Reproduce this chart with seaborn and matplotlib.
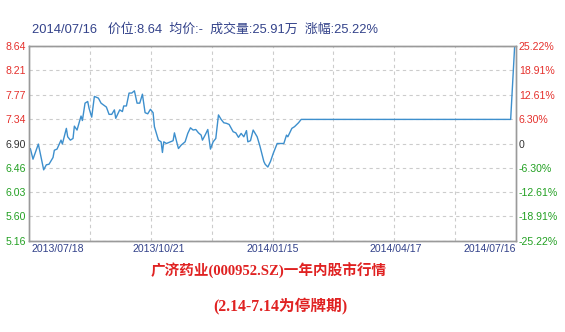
import matplotlib
matplotlib.use("Agg")
import matplotlib.pyplot as plt
import matplotlib.dates as mdates
from matplotlib.ticker import FixedLocator
import pandas as pd
import seaborn as sns

# ---------------- data ----------------
dates = [
    "2013-07-17", "2013-07-19", "2013-07-23", "2013-07-25", "2013-07-27", "2013-07-29",
    "2013-07-31", "2013-08-03", "2013-08-04", "2013-08-06", "2013-08-09", "2013-08-10",
    "2013-08-13", "2013-08-14", "2013-08-16", "2013-08-18", "2013-08-19", "2013-08-21",
    "2013-08-24", "2013-08-25", "2013-08-27", "2013-08-29", "2013-08-30", "2013-09-01",
    "2013-09-03", "2013-09-06", "2013-09-08", "2013-09-12", "2013-09-14", "2013-09-16",
    "2013-09-18", "2013-09-19", "2013-09-22", "2013-09-24", "2013-09-25", "2013-09-27",
    "2013-09-29", "2013-10-01", "2013-10-03", "2013-10-05", "2013-10-07", "2013-10-09",
    "2013-10-11", "2013-10-13", "2013-10-15", "2013-10-17", "2013-10-18", "2013-10-21",
    "2013-10-23", "2013-10-24", "2013-10-25", "2013-10-27", "2013-10-30", "2013-11-01",
    "2013-11-02", "2013-11-04", "2013-11-05", "2013-11-07", "2013-11-10", "2013-11-12",
    "2013-11-14", "2013-11-16", "2013-11-18", "2013-11-20", "2013-11-22", "2013-11-23",
    "2013-11-25", "2013-11-27", "2013-11-29", "2013-12-01", "2013-12-03", "2013-12-05",
    "2013-12-07", "2013-12-09", "2013-12-11", "2013-12-13", "2013-12-16", "2013-12-18",
    "2013-12-20", "2013-12-22", "2013-12-24", "2013-12-26", "2013-12-27", "2013-12-29",
    "2013-12-31", "2014-01-03", "2014-01-05", "2014-01-08", "2014-01-09", "2014-01-11",
    "2014-01-13", "2014-01-15", "2014-01-18", "2014-01-20", "2014-01-23", "2014-01-25",
    "2014-01-26", "2014-01-29", "2014-01-31", "2014-02-03", "2014-02-05", "2014-07-12",
    "2014-07-15", "2014-07-16",
]
prices = [
    6.81, 6.62, 6.89, 6.66, 6.43, 6.52,
    6.53, 6.65, 6.78, 6.80, 6.96, 6.89,
    7.17, 7.02, 6.96, 6.99, 7.21, 7.14,
    7.39, 7.31, 7.62, 7.65, 7.53, 7.37,
    7.74, 7.71, 7.62, 7.55, 7.42, 7.42,
    7.50, 7.35, 7.50, 7.47, 7.57, 7.57,
    7.80, 7.80, 7.84, 7.62, 7.62, 7.78,
    7.45, 7.43, 7.51, 7.45, 7.20, 6.96,
    6.93, 6.74, 6.93, 6.90, 6.93, 6.95,
    7.09, 6.90, 6.81, 6.87, 6.93, 7.08,
    7.18, 7.14, 7.15, 7.09, 7.05, 6.96,
    7.05, 7.15, 6.80, 6.93, 6.99, 7.41,
    7.33, 7.27, 7.26, 7.24, 7.11, 7.09,
    7.01, 7.08, 7.02, 7.13, 6.93, 6.95,
    7.14, 7.02, 6.86, 6.58, 6.53, 6.48,
    6.58, 6.72, 6.90, 6.90, 6.90, 7.05,
    7.02, 7.17, 7.20, 7.27, 7.33, 7.33,
    8.64, 8.64,
]
left_labels = ["5.16", "5.60", "6.03", "6.46", "6.90", "7.34", "7.77", "8.21", "8.64"]
right_labels = ["-25.22%", "-18.91%", "-12.61%", "-6.30%", "0",
                "6.30%", "12.61%", "18.91%", "25.22%"]
x_labels = ["2013/07/18", "2013/10/21", "2014/01/15", "2014/04/17", "2014/07/16"]
x_start, x_end = "2013-07-16", "2014-07-16"
header = "2014/07/16   价位:8.64  均价:-  成交量:25.91万  涨幅:25.22%"
title1 = "广济药业(000952.SZ)一年内股市行情"
title2 = "(2.14-7.14为停牌期)"

# ---------------- style ----------------
sns.set_theme(style="white")
plt.rcParams["font.family"] = ["Liberation Sans", "Noto Sans CJK SC", "DejaVu Sans"]

RED = "#e5302c"
GREEN = "#22a022"
BLACK = "#333333"
NAVY = "#33428a"
LINE = "#3d8fcd"

df = pd.DataFrame({"date": pd.to_datetime(dates), "price": prices})

fig = plt.figure(figsize=(5.65, 3.32), dpi=100)
ax = fig.add_axes([29 / 565, 1 - 241 / 332, 487 / 565, 195 / 332])

sns.lineplot(data=df, x="date", y="price", ax=ax, color=LINE, linewidth=1.0)

t0, t1 = pd.Timestamp(x_start), pd.Timestamp(x_end)
ax.set_xlim(t0, t1)
ylo, yhi = float(left_labels[0]), float(left_labels[-1])
ax.set_ylim(ylo, yhi)
ax.set_xlabel("")
ax.set_ylabel("")

# y ticks
yt = [float(v) for v in left_labels]
ax.set_yticks(yt)
ax.set_yticklabels(left_labels)
mid = len(left_labels) // 2
for i, lab in enumerate(ax.get_yticklabels()):
    lab.set_color(RED if i > mid else (BLACK if i == mid else GREEN))
ax.tick_params(axis="y", length=0, pad=2, labelsize=7.6)

# x ticks
xt = [pd.Timestamp(s.replace("/", "-")) for s in x_labels]
ax.set_xticks([mdates.date2num(d) for d in xt])
ax.set_xticklabels(x_labels)
ax.tick_params(axis="x", length=0, pad=2, labelsize=7.6, colors=NAVY)
xl = ax.get_xticklabels()
xl[0].set_ha("left")
xl[-1].set_ha("right")

# grid: horizontal at y ticks, vertical at 8 equal divisions
span = (t1 - t0) / 8
vgrid = [mdates.date2num(t0 + span * k) for k in range(1, 8)]
ax.xaxis.set_minor_locator(FixedLocator(vgrid))
ax.grid(False)
ax.grid(True, axis="y", which="major", color="#cccccc", linestyle=(0, (3, 3)), linewidth=0.8)
ax.grid(True, axis="x", which="minor", color="#cccccc", linestyle=(0, (3, 3)), linewidth=0.8)
ax.tick_params(axis="x", which="minor", length=0)

for s in ax.spines.values():
    s.set_color("#9a9a9a")
    s.set_linewidth(1.0)

# right axis
ax2 = ax.twinx()
ax2.set_ylim(ylo, yhi)
ax2.set_yticks(yt)
ax2.set_yticklabels(right_labels)
for i, lab in enumerate(ax2.get_yticklabels()):
    lab.set_color(RED if i > mid else (BLACK if i == mid else GREEN))
ax2.tick_params(axis="y", length=0, pad=2, labelsize=7.6)
ax2.grid(False)
for s in ax2.spines.values():
    s.set_color("#9a9a9a")
    s.set_linewidth(1.0)

# header
fig.text(32 / 565, 1 - 30 / 332, header, fontsize=9.3, color=NAVY, va="center", ha="left",
         family=["Liberation Sans", "Noto Sans CJK SC"])

# bottom titles
fig.text(269 / 565, 1 - 271 / 332, title1, fontsize=10.5, color="#e02222", fontweight="bold",
         va="center", ha="center", family=["Liberation Serif", "Noto Sans CJK SC"])
fig.text(280 / 565, 1 - 307 / 332, title2, fontsize=11.3, color="#e02222", fontweight="bold",
         va="center", ha="center", family=["Liberation Serif", "Noto Sans CJK SC"])

fig.savefig("out.png", dpi=100)
